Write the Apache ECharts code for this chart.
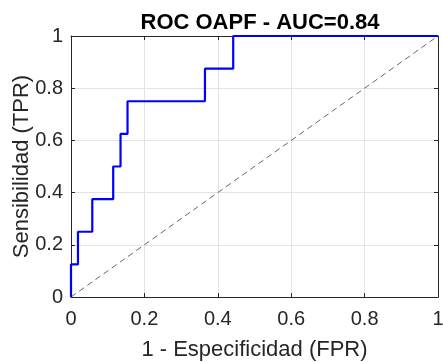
<!DOCTYPE html>
<html>
<head>
<meta charset="utf-8">
<script src="https://cdn.jsdelivr.net/npm/echarts@6/dist/echarts.min.js"></script>
<style>
  html, body { margin: 0; padding: 0; background: #fff; }
  #chart { width: 443px; height: 362px; }
</style>
</head>
<body>
<div id="chart"></div>
<script>
// ROC curve step points (false positive rate, true positive rate)
const fpr = [0, 0, 0.019, 0.019, 0.058, 0.058, 0.115, 0.115, 0.135, 0.135, 0.154, 0.154, 0.365, 0.365, 0.442, 0.442, 1];
const tpr = [0, 0.125, 0.125, 0.25, 0.25, 0.375, 0.375, 0.5, 0.5, 0.625, 0.625, 0.75, 0.75, 0.875, 0.875, 1, 1];
// Chance diagonal
const diagX = [0, 1];
const diagY = [0, 1];
const tickLabels = ['0', '0.2', '0.4', '0.6', '0.8', '1'];

const FONT = '"Liberation Sans", Arial, Helvetica, sans-serif';
const TXT = '#262626';
const AX = '#262626';

const fmt = v => {
  const i = Math.round(v / 0.2);
  return tickLabels[i] !== undefined ? tickLabels[i] : '';
};

const chart = echarts.init(document.getElementById('chart'), null, { renderer: 'canvas' });

const baseAxis = {
  type: 'value', min: 0, max: 1, interval: 0.2,
  axisLine: { show: true, onZero: false, lineStyle: { color: AX, width: 1 } },
  axisTick: { show: true, inside: true, length: 4, lineStyle: { color: AX, width: 1 } },
  splitLine: { show: false }
};

chart.setOption({
  animation: false,
  backgroundColor: '#fff',
  title: {
    text: 'ROC OAPF - AUC=0.84',
    left: 255, top: 7, textAlign: 'center',
    textStyle: { fontFamily: FONT, fontSize: 22, fontWeight: 'bold', color: '#000' }
  },
  grid: { left: 71, right: 5, top: 36, bottom: 65, containLabel: false, outerBoundsMode: 'none' },
  xAxis: [
    Object.assign({}, baseAxis, {
      position: 'bottom',
      name: '1 - Especificidad (FPR)', nameLocation: 'middle', nameGap: 42,
      nameMoveOverlap: false,
      nameTextStyle: { fontFamily: FONT, fontSize: 22, color: TXT },
      axisLabel: { fontFamily: FONT, fontSize: 20, color: TXT, margin: 12, formatter: fmt },
      splitLine: { show: true, lineStyle: { color: '#e3e3e3', width: 1 } }
    }),
    Object.assign({}, baseAxis, { position: 'top', axisLabel: { show: false } })
  ],
  yAxis: [
    Object.assign({}, baseAxis, {
      position: 'left',
      name: 'Sensibilidad (TPR)', nameLocation: 'middle', nameGap: 38,
      nameMoveOverlap: false,
      nameTextStyle: { fontFamily: FONT, fontSize: 22, color: TXT },
      axisLabel: { fontFamily: FONT, fontSize: 20, color: TXT, margin: 8, formatter: fmt },
      splitLine: { show: true, lineStyle: { color: '#e3e3e3', width: 1 } }
    }),
    Object.assign({}, baseAxis, { position: 'right', axisLabel: { show: false } })
  ],
  series: [
    {
      type: 'line',
      data: diagX.map((x, i) => [x, diagY[i]]),
      showSymbol: false, symbol: 'none',
      lineStyle: { color: '#555', width: 0.9, type: [6, 4] },
      z: 2
    },
    {
      type: 'line',
      data: fpr.map((x, i) => [x, tpr[i]]),
      showSymbol: false, symbol: 'none',
      lineStyle: { color: '#0000ff', width: 2.2 },
      z: 3
    }
  ]
});
</script>
</body>
</html>
